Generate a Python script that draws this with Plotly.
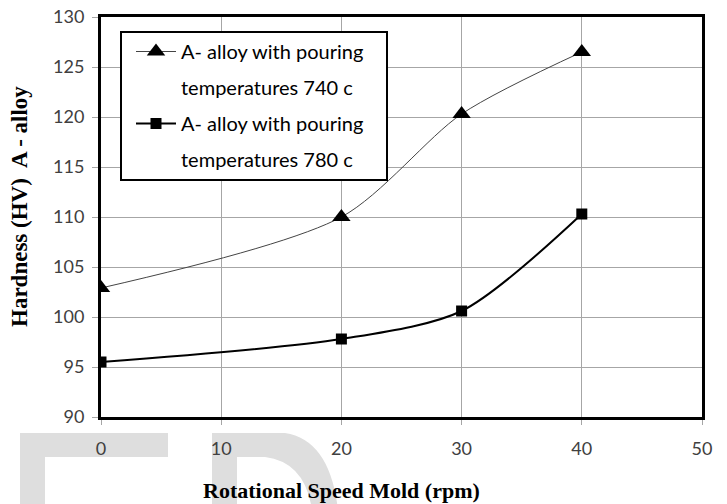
import plotly.graph_objects as go

speed = [0, 20, 30, 40]
hv_740 = [102.9, 110.0, 120.3, 126.5]
hv_780 = [95.5, 97.8, 100.6, 110.3]
label_740 = ["A- alloy with pouring", "temperatures 740 c"]
label_780 = ["A- alloy with pouring", "temperatures 780 c"]
x_ticks = [0, 10, 20, 30, 40, 50]
y_ticks = [90, 95, 100, 105, 110, 115, 120, 125, 130]
x_title = "<b>Rotational Speed Mold (rpm)</b>"
y_title = "<b>Hardness (HV)  A - alloy</b>"

W, H = 727, 504
L, R, T, B = 101, 25, 17, 87
PW, PH = W - L - R, H - T - B


def px(x):  # window pixel -> paper
    return (x - L) / PW


def py(y):
    return (T + PH - y) / PH


def P(x, y):
    return "{:.4f} {:.4f}".format(px(x), py(y))


fig = go.Figure()
fig.add_trace(go.Scatter(
    x=speed, y=hv_740, name=label_740[0], legendgroup="a", mode="lines+markers",
    line=dict(color="#444444", width=1, shape="spline", smoothing=0.8),
    marker=dict(symbol="triangle-up", size=16, color="black"),
))
fig.add_trace(go.Scatter(
    x=[None], y=[None], name=label_740[1], legendgroup="a2", mode="lines",
    line=dict(color="rgba(0,0,0,0)", width=0), hoverinfo="skip",
))
fig.add_trace(go.Scatter(
    x=speed, y=hv_780, name=label_780[0], legendgroup="b", mode="lines+markers",
    line=dict(color="black", width=2, shape="spline", smoothing=0.8),
    marker=dict(symbol="square", size=11, color="black"),
))
fig.add_trace(go.Scatter(
    x=[None], y=[None], name=label_780[1], legendgroup="b2", mode="lines",
    line=dict(color="rgba(0,0,0,0)", width=0), hoverinfo="skip",
))

wm = "#dedede"
shapes = [
    dict(type="rect", xref="paper", yref="paper", x0=px(20), x1=px(168), y0=py(457), y1=py(433),
         fillcolor=wm, line_width=0, layer="below"),
    dict(type="rect", xref="paper", yref="paper", x0=px(20), x1=px(45), y0=py(510), y1=py(433),
         fillcolor=wm, line_width=0, layer="below"),
    # legend frame
    dict(type="rect", xref="paper", yref="paper", x0=px(121), x1=px(387), y0=py(180), y1=py(32),
         fillcolor="white", line=dict(color="black", width=2), layer="above"),
]
path = ("M " + P(212, 510) + " L " + P(212, 433) + " L " + P(285, 433)
        + " Q " + P(330, 440) + " " + P(338, 510)
        + " L " + P(312, 510)
        + " Q " + P(305, 462) + " " + P(265, 457)
        + " L " + P(237, 457) + " L " + P(237, 510) + " Z")
shapes.append(dict(type="path", xref="paper", yref="paper", path=path,
                   fillcolor=wm, line_width=0, layer="below"))

fig.update_layout(
    width=W, height=H,
    margin=dict(l=L, r=R, t=T, b=B, autoexpand=False),
    paper_bgcolor="white", plot_bgcolor="white",
    showlegend=True,
    legend=dict(
        x=px(131), y=py(32), xanchor="left", yanchor="top",
        bgcolor="rgba(0,0,0,0)", borderwidth=0,
        font=dict(family="Lato", size=20, color="black"),
        traceorder="grouped", tracegroupgap=7, itemwidth=40,
    ),
    shapes=shapes,
    font=dict(family="Lato", color="#404040"),
    annotations=[
        dict(text=x_title, xref="paper", yref="paper", x=px(341), y=py(490),
             xanchor="center", yanchor="middle", showarrow=False,
             font=dict(family="Liberation Serif", size=22, color="black")),
        dict(text=y_title, xref="paper", yref="paper", x=px(19), y=py(207),
             xanchor="center", yanchor="middle", showarrow=False, textangle=-90,
             font=dict(family="Liberation Serif", size=23, color="black")),
    ],
)
fig.update_xaxes(
    range=[0, 50], tickvals=x_ticks, ticktext=[str(v) for v in x_ticks],
    showgrid=True, gridcolor="#a6a6a6", gridwidth=1,
    showline=True, linecolor="black", linewidth=3, mirror=True,
    ticks="outside", ticklen=5, tickcolor="#a6a6a6",
    ticklabelstandoff=8, automargin=False, ticklabeloverflow="allow",
    tickfont=dict(family="Lato", size=18, color="#404040"),
    zeroline=False,
)
fig.update_yaxes(
    range=[90, 130], tickvals=y_ticks, ticktext=[str(v) for v in y_ticks],
    showgrid=True, gridcolor="#a6a6a6", gridwidth=1,
    showline=True, linecolor="black", linewidth=3, mirror=True,
    ticks="outside", ticklen=6, tickcolor="#a6a6a6",
    ticklabelstandoff=4, automargin=False, ticklabeloverflow="allow",
    tickfont=dict(family="Lato", size=18, color="#404040"),
    zeroline=False,
)

fig.write_html(
    "out.html",
    config={"displayModeBar": False},
    post_script="document.body.style.margin='0';document.body.style.overflow='hidden';",
)
